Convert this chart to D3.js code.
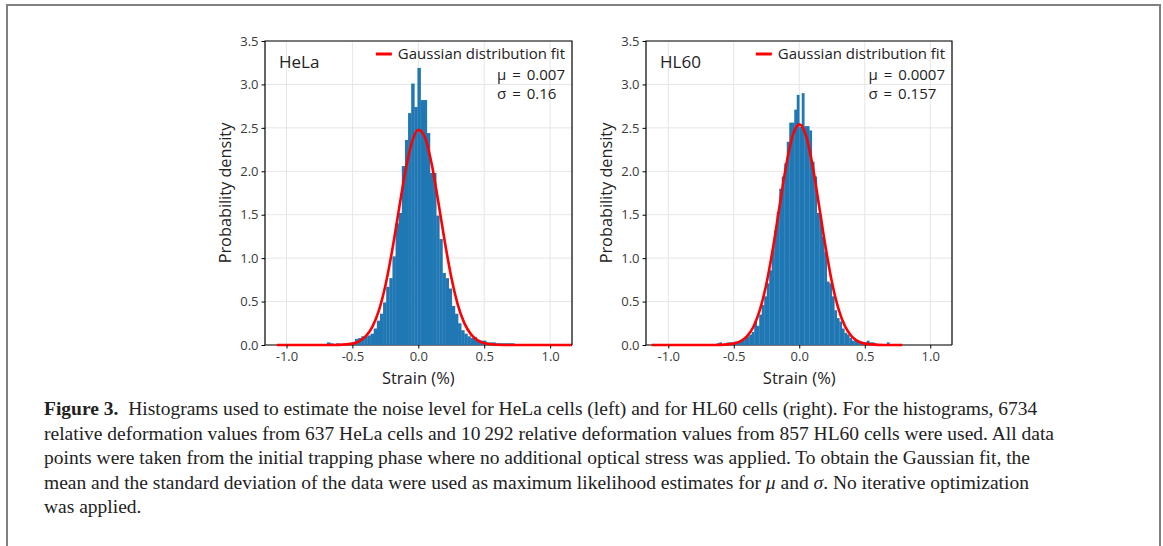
<!DOCTYPE html>
<html>
<head>
<meta charset="utf-8">
<script src="https://cdn.jsdelivr.net/npm/d3@7"></script>
<style>
  body { margin: 0; background: #fff; }
  svg { display: block; }
  .tick text { font-family: "Open Sans", sans-serif; font-size: 13px; fill: #3a3a3a; }
  .tick line { stroke: #000; }
</style>
</head>
<body>
<svg id="figure" width="1163" height="546"></svg>
<script>
// histogram bins (strain %, density)
const helaBinStart = -1.073, helaBinWidth = 0.0237;
const helaDensity = [
  0, 0, 0, 0, 0, 0, 0, 0, 0, 0,
  0, 0, 0, 0, 0.01, 0.01, 0.03, 0.02, 0.01, 0.02,
  0.01, 0.01, 0.02, 0.02, 0.03, 0.07, 0.08, 0.10, 0.10, 0.11,
  0.13, 0.19, 0.28, 0.36, 0.49, 0.67, 0.77, 1.02, 1.40, 1.52,
  2.06, 2.36, 2.67, 3.01, 2.74, 3.19, 2.82, 2.82, 2.44, 1.98,
  1.98, 1.49, 1.22, 0.83, 0.77, 0.65, 0.45, 0.36, 0.25, 0.17,
  0.13, 0.10, 0.08, 0.09, 0.06, 0.05, 0.05, 0.03, 0.03, 0.03,
  0.02, 0.02, 0.02, 0.02, 0.02, 0.02, 0.01, 0, 0, 0,
  0, 0, 0, 0, 0, 0, 0, 0, 0, 0,
  0, 0, 0, 0, 0, 0, 0, 0, 0, 0
];
const hl60BinStart = -1.127, hl60BinWidth = 0.0191;
const hl60Density = [
  0, 0, 0, 0, 0, 0, 0, 0, 0, 0,
  0, 0, 0, 0.01, 0.01, 0.01, 0, 0, 0, 0,
  0, 0, 0, 0, 0.01, 0.01, 0.02, 0.03, 0.01, 0.01,
  0.03, 0.03, 0.03, 0.04, 0.04, 0.05, 0.06, 0.08, 0.10, 0.12,
  0.15, 0.27, 0.22, 0.35, 0.46, 0.56, 0.71, 0.86, 1.09, 1.32,
  1.53, 1.80, 1.94, 2.09, 2.34, 2.56, 2.56, 2.71, 2.88, 2.51,
  2.90, 2.52, 2.52, 2.47, 2.11, 1.94, 1.52, 1.50, 1.25, 1.07,
  0.73, 0.71, 0.56, 0.40, 0.31, 0.27, 0.19, 0.14, 0.12, 0.08,
  0.05, 0.06, 0.05, 0.04, 0.03, 0.03, 0.05, 0.03, 0.03, 0.02,
  0.01, 0.01, 0, 0.01, 0.03, 0.01, 0, 0, 0, 0.01
];

// gaussian fit curves
const helaFitX = [-1.073, -0.7, -0.6, -0.5, -0.45, -0.4, -0.35, -0.3, -0.25, -0.2, -0.15, -0.1, -0.05, 0,
                  0.05, 0.1, 0.15, 0.2, 0.25, 0.3, 0.35, 0.4, 0.45, 0.5, 0.6, 0.7, 1.3];
const helaFitY = [0, 0, 0.002, 0.016, 0.042, 0.098, 0.206, 0.394, 0.683, 1.074, 1.533, 1.984, 2.327, 2.478,
                  2.392, 2.095, 1.664, 1.198, 0.783, 0.463, 0.249, 0.122, 0.054, 0.021, 0.003, 0, 0];
const hl60FitX = [-1.127, -0.7, -0.6, -0.5, -0.45, -0.4, -0.35, -0.3, -0.25, -0.2, -0.15, -0.1, -0.05, 0,
                  0.05, 0.1, 0.15, 0.2, 0.25, 0.3, 0.35, 0.4, 0.45, 0.5, 0.6, 0.7, 0.786];
const hl60FitY = [0, 0, 0.002, 0.016, 0.041, 0.098, 0.21, 0.406, 0.71, 1.122, 1.603, 2.068, 2.411, 2.54,
                  2.418, 2.08, 1.616, 1.136, 0.72, 0.413, 0.214, 0.1, 0.042, 0.016, 0.002, 0, 0];

const xTicks = [-1.0, -0.5, 0.0, 0.5, 1.0];
const yTicks = [0, 0.5, 1.0, 1.5, 2.0, 2.5, 3.0, 3.5];

const captionLines = [
  [["Figure 3.", "b"], ["\u00a0\u00a0Histograms used to estimate the noise level for HeLa cells (left) and for HL60 cells (right). For the histograms, 6734", ""]],
  [["relative deformation values from 637 HeLa cells and 10\u2009292 relative deformation values from 857 HL60 cells were used. All data", ""]],
  [["points were taken from the initial trapping phase where no additional optical stress was applied. To obtain the Gaussian fit, the", ""]],
  [["mean and the standard deviation of the data were used as maximum likelihood estimates for ", ""], ["\u03bc", "i"], [" and ", ""], ["\u03c3", "i"], [". No iterative optimization", ""]],
  [["was applied.", ""]]
];

const svg = d3.select("#figure");
const sans = "'Open Sans', sans-serif";

// figure frame
svg.append("rect")
  .attr("x", 7).attr("y", 5)
  .attr("width", 1153).attr("height", 600)
  .attr("fill", "none")
  .attr("stroke", "#808080")
  .attr("stroke-width", 2);

const plotTop = 41, plotBottom = 345;

function drawPanel(cfg, idx) {
  const w = cfg.right - cfg.left;
  const h = plotBottom - plotTop;
  const g = svg.append("g").attr("transform", `translate(${cfg.left},${plotTop})`);

  const x = d3.scaleLinear().domain(cfg.xDomain).range([0, w]);
  const y = d3.scaleLinear().domain([0, 3.5]).range([h, 0]);

  // grid
  g.selectAll(".gx").data(xTicks).enter().append("line")
    .attr("x1", d => x(d)).attr("x2", d => x(d))
    .attr("y1", 0).attr("y2", h)
    .attr("stroke", "#e6e6e6");
  g.selectAll(".gy").data(yTicks).enter().append("line")
    .attr("x1", 0).attr("x2", w)
    .attr("y1", d => y(d)).attr("y2", d => y(d))
    .attr("stroke", "#e6e6e6");

  // bottom spine sits under the bars
  g.append("line").attr("x1", 0).attr("x2", w).attr("y1", h).attr("y2", h)
    .attr("stroke", "#000").attr("stroke-width", 1.2);

  g.append("clipPath").attr("id", "clip" + idx)
    .append("rect").attr("width", w).attr("height", h + 2);

  const plot = g.append("g").attr("clip-path", `url(#clip${idx})`);

  plot.selectAll(".bar")
    .data(cfg.density)
    .enter().append("rect")
    .attr("class", "bar")
    .attr("x", (d, i) => x(cfg.binStart + i * cfg.binWidth))
    .attr("width", (d, i) => x(cfg.binStart + (i + 1) * cfg.binWidth) - x(cfg.binStart + i * cfg.binWidth) + 0.3)
    .attr("y", d => y(d))
    .attr("height", d => h - y(d))
    .attr("fill", "#1f77b4");

  const fit = cfg.fitX.map((v, i) => [v, cfg.fitY[i]]);
  plot.append("path")
    .datum(fit)
    .attr("d", d3.line().x(d => x(d[0])).y(d => y(d[1])).curve(d3.curveMonotoneX))
    .attr("fill", "none")
    .attr("stroke", "#ff0000")
    .attr("stroke-width", 2.6);

  // spines
  g.append("path")
    .attr("d", `M0,${h}V0H${w}V${h}`)
    .attr("fill", "none")
    .attr("stroke", "#000")
    .attr("stroke-width", 1.2);

  // axes
  g.append("g")
    .attr("transform", `translate(0,${h})`)
    .call(d3.axisBottom(x).tickValues(xTicks).tickSize(3.5).tickPadding(3).tickFormat(d => d.toFixed(1)))
    .call(a => a.select(".domain").remove());
  g.append("g")
    .call(d3.axisLeft(y).tickValues(yTicks).tickSize(3.5).tickPadding(3).tickFormat(d => d.toFixed(1)))
    .call(a => a.select(".domain").remove());

  g.append("text")
    .text("Strain (%)")
    .attr("x", x(0)).attr("y", 384 - plotTop)
    .attr("text-anchor", "middle")
    .attr("font-family", sans).attr("font-size", 16.5)
    .attr("fill", "#222");

  g.append("text")
    .text("Probability density")
    .attr("transform", `translate(${cfg.yLabelX - cfg.left},${h / 2}) rotate(-90)`)
    .attr("text-anchor", "middle")
    .attr("dominant-baseline", "central")
    .attr("font-family", sans).attr("font-size", 16.3)
    .attr("fill", "#222");

  // cell line name
  g.append("text")
    .text(cfg.label)
    .attr("x", 14).attr("y", 27)
    .attr("font-family", sans).attr("font-size", 17)
    .attr("fill", "#222");

  // legend
  const legText = g.append("text")
    .text("Gaussian distribution fit")
    .attr("x", w - 7).attr("y", 18)
    .attr("text-anchor", "end")
    .attr("font-family", sans).attr("font-size", 15)
    .attr("fill", "#222");
  const lw = legText.node().getComputedTextLength();
  g.append("line")
    .attr("x1", w - 7 - lw - 22).attr("x2", w - 7 - lw - 6)
    .attr("y1", 13).attr("y2", 13)
    .attr("stroke", "#ff0000").attr("stroke-width", 3);

  const muText = g.append("text")
    .text("\u03bc = " + cfg.mu)
    .attr("y", 39)
    .attr("font-family", sans).attr("font-size", 15)
    .attr("word-spacing", 2)
    .attr("fill", "#222");
  const mw = muText.node().getComputedTextLength();
  muText.attr("x", w - 7 - mw);
  g.append("text")
    .text("\u03c3 = " + cfg.sigma)
    .attr("x", w - 7 - mw).attr("y", 58)
    .attr("font-family", sans).attr("font-size", 15)
    .attr("word-spacing", 2)
    .attr("fill", "#222");
}

drawPanel({
  left: 265, right: 572, xDomain: [-1.163, 1.166], yLabelX: 225,
  binStart: helaBinStart, binWidth: helaBinWidth, density: helaDensity,
  fitX: helaFitX, fitY: helaFitY, label: "HeLa", mu: "0.007", sigma: "0.16"
}, 0);

drawPanel({
  left: 646, right: 952, xDomain: [-1.17, 1.166], yLabelX: 606,
  binStart: hl60BinStart, binWidth: hl60BinWidth, density: hl60Density,
  fitX: hl60FitX, fitY: hl60FitY, label: "HL60", mu: "0.0007", sigma: "0.157"
}, 1);

// caption
const caption = svg.append("text")
  .attr("font-family", "'Liberation Serif', 'Times New Roman', serif")
  .attr("font-size", 19.5)
  .attr("fill", "#222");

captionLines.forEach((line, li) => {
  line.forEach((seg, si) => {
    const t = caption.append("tspan").text(seg[0]);
    if (si === 0) t.attr("x", 44).attr("y", 415 + li * 24.5);
    if (seg[1] === "b") t.attr("font-weight", "bold");
    if (seg[1] === "i") t.attr("font-style", "italic");
  });
});
</script>
</body>
</html>
